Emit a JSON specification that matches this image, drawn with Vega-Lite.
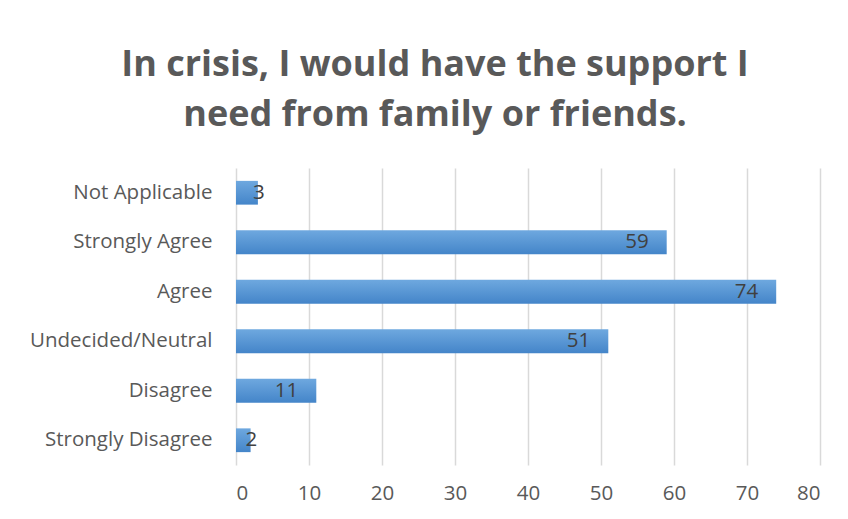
{
  "$schema": "https://vega.github.io/schema/vega-lite/v6.json",
  "autosize": "none",
  "width": 584,
  "height": 297,
  "padding": {"left": 236, "top": 168, "right": 28, "bottom": 54},
  "background": "white",
  "config": {
    "font": "Open Sans",
    "view": {"stroke": null}
  },
  "title": {
    "text": ["In crisis, I would have the support I", "need from family or friends."],
    "fontSize": 36,
    "fontWeight": "bold",
    "color": "#595959",
    "font": "Open Sans",
    "lineHeight": 50,
    "anchor": "middle",
    "frame": "group",
    "dx": -93,
    "offset": 34
  },
  "data": {
    "values": [
      {"category": "Not Applicable", "count": 3},
      {"category": "Strongly Agree", "count": 59},
      {"category": "Agree", "count": 74},
      {"category": "Undecided/Neutral", "count": 51},
      {"category": "Disagree", "count": 11},
      {"category": "Strongly Disagree", "count": 2}
    ]
  },
  "encoding": {
    "y": {
      "field": "category",
      "type": "nominal",
      "sort": null,
      "scale": {"paddingInner": 0.52, "paddingOuter": 0.26},
      "axis": {
        "title": null,
        "domain": false,
        "ticks": false,
        "labelFontSize": 20.5,
        "labelColor": "#595959",
        "labelFont": "Open Sans",
        "labelPadding": 24,
        "labelLimit": 0
      }
    },
    "x": {
      "field": "count",
      "type": "quantitative",
      "scale": {"domain": [0, 80], "nice": false},
      "axis": {
        "title": null,
        "values": [0, 10, 20, 30, 40, 50, 60, 70, 80],
        "domain": false,
        "ticks": false,
        "grid": true,
        "gridColor": "#d9d9d9",
        "gridWidth": 1.5,
        "labelFontSize": 20.5,
        "labelColor": "#595959",
        "labelFont": "Open Sans",
        "labelPadding": 18
      }
    }
  },
  "layer": [
    {
      "mark": {
        "type": "bar",
        "color": {
          "gradient": "linear",
          "x1": 0, "y1": 0, "x2": 0, "y2": 1,
          "stops": [
            {"offset": 0, "color": "#6ea8df"},
            {"offset": 1, "color": "#4485c9"}
          ]
        }
      }
    },
    {
      "transform": [{"filter": "datum.count >= 10"}],
      "mark": {"type": "text", "align": "right", "dx": -18, "fontSize": 20.5, "color": "#404040", "font": "Open Sans"},
      "encoding": {"text": {"field": "count", "type": "quantitative"}}
    },
    {
      "transform": [{"filter": "datum.count < 10"}],
      "mark": {"type": "text", "align": "left", "dx": -5, "fontSize": 20.5, "color": "#404040", "font": "Open Sans"},
      "encoding": {"text": {"field": "count", "type": "quantitative"}}
    }
  ]
}
